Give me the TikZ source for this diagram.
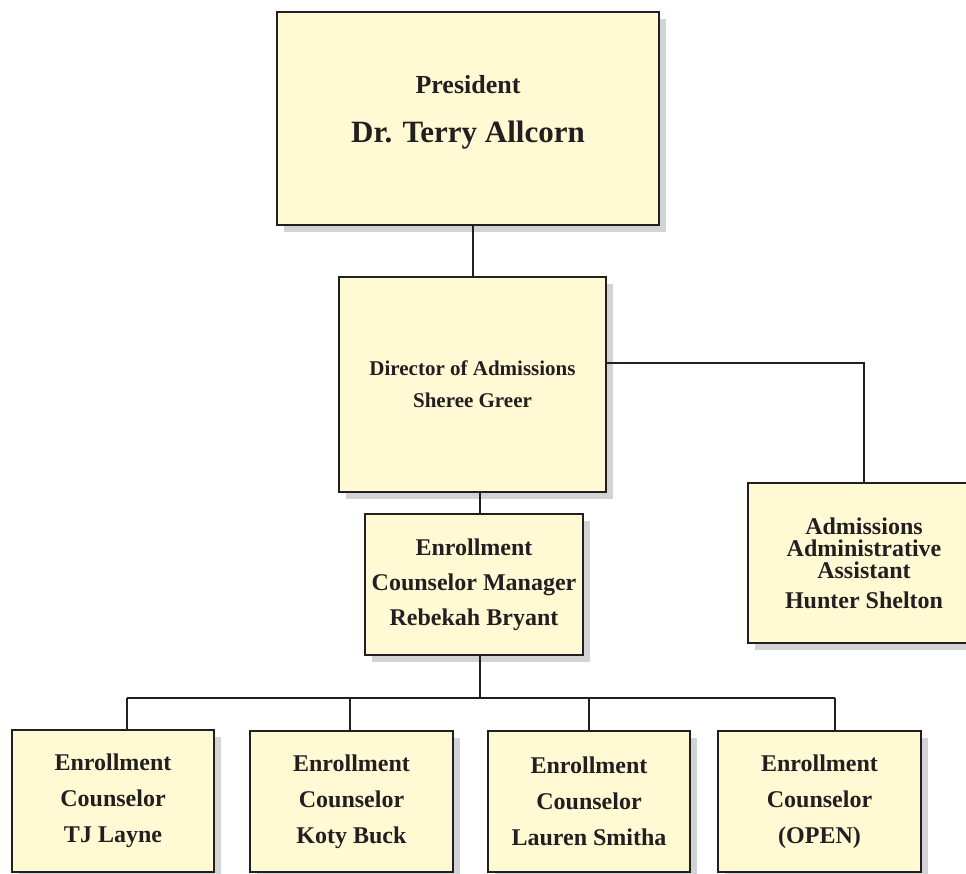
\documentclass[tikz,border=0pt]{standalone}
\usepackage{fontspec}
\setmainfont{Liberation Serif}
\usepackage{tikz}
\usetikzlibrary{shadows}
\definecolor{boxfill}{RGB}{255,250,212}
\definecolor{boxline}{RGB}{35,31,32}
\definecolor{shadowgray}{RGB}{210,211,213}
\tikzstyle{tBox} = [rectangle, draw=boxline, fill=boxfill, line width=2.5pt, align=center, inner sep=0pt, font=\bfseries, text=boxline,
  drop shadow={shadow xshift=7pt, shadow yshift=-7pt, fill=shadowgray, opacity=1}]
\tikzstyle{tLine} = [draw=boxline, line width=2pt]
\begin{document}
\begin{tikzpicture}[x=1pt,y=-1pt]
    \useasboundingbox (0,0) rectangle (966,874);
    \clip (0,0) rectangle (966,874);
    \fill[white] (0,0) rectangle (966,874);
    \node[tBox, minimum width=382pt, minimum height=213pt, font=\bfseries\fontsize{26}{49}\selectfont] (Pres) at (468,118.5) {President\\\fontsize{31}{49}\selectfont Dr. Terry Allcorn\\[-30pt]};
    \node[tBox, minimum width=267pt, minimum height=215pt, font=\bfseries\fontsize{21}{32}\selectfont] (Dir) at (472.5,384.5) {Director of Admissions\\Sheree Greer};
    \node[tBox, minimum width=218pt, minimum height=141pt, font=\bfseries\fontsize{24}{35}\selectfont] (Mgr) at (474,584.5) {Enrollment\\Counselor Manager\\Rebekah Bryant};
    \node[tBox, minimum width=232pt, minimum height=160pt, font=\bfseries\fontsize{24}{22}\selectfont] (Asst) at (864,563) {Admissions\\Administrative\\Assistant\\[8pt]Hunter Shelton};
    \node[tBox, minimum width=202pt, minimum height=142pt, font=\bfseries\fontsize{24}{36}\selectfont] (TJ) at (113,801) {Enrollment\\Counselor\\TJ Layne};
    \node[tBox, minimum width=203pt, minimum height=141pt, font=\bfseries\fontsize{24}{36}\selectfont] (Koty) at (351.5,801.5) {Enrollment\\Counselor\\Koty Buck};
    \node[tBox, minimum width=202pt, minimum height=141pt, font=\bfseries\fontsize{24}{36}\selectfont] (Lauren) at (589,801.5) {Enrollment\\Counselor\\Lauren Smitha};
    \node[tBox, minimum width=203pt, minimum height=141pt, font=\bfseries\fontsize{24}{36}\selectfont] (Open) at (819.5,801.5) {Enrollment\\Counselor\\(OPEN)};
    % connectors
    \coordinate (Bus) at (480,698);
    \draw[tLine] (Dir.north) -- (Dir.north |- Pres.south);
    \draw[tLine] ([yshift=22pt]Dir.east) -| (Asst.north);
    \draw[tLine] ([xshift=6pt]Mgr.north) -- ([xshift=6pt]Mgr.north |- Dir.south);
    \draw[tLine] ([xshift=6pt]Mgr.south) -- (Bus);
    \draw[tLine] ([xshift=14pt]TJ.north |- Bus) -- ([xshift=15pt]Open.north |- Bus);
    \foreach \n/\dx in {TJ/14,Koty/-2,Lauren/0,Open/15}
        \draw[tLine] ([xshift=\dx pt]\n.north) -- ([xshift=\dx pt]\n.north |- Bus);
\end{tikzpicture}
\end{document}
